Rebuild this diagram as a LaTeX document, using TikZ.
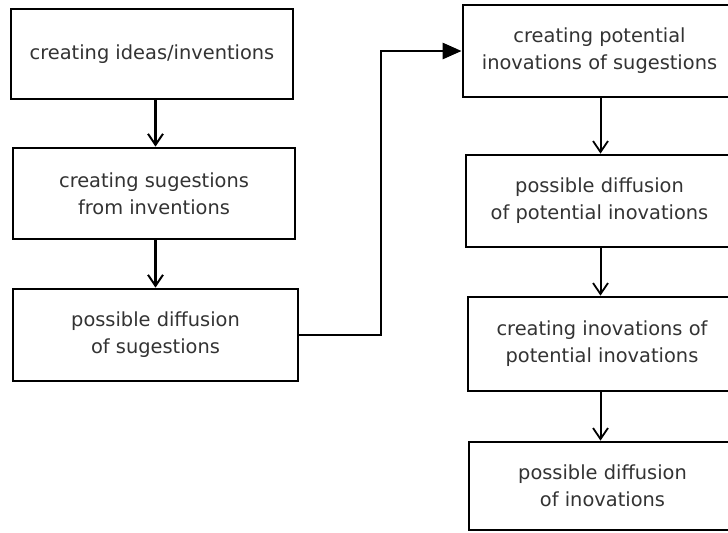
\documentclass[tikz,border=0pt]{standalone}
\usepackage{fontspec}
\setmainfont{DejaVu Sans}
\usetikzlibrary{arrows.meta}
\begin{document}
\begin{tikzpicture}[x=0.5pt,y=-0.5pt,
  stepbox/.style={draw=black, line width=1.4pt, fill=white, align=center,
    text=black!80, inner sep=0pt,
    font=\fontsize{9.7pt}{13.5pt}\selectfont},
  flow/.style={line width=1.2pt, -{Straight Barb[length=5.5pt,width=7.5pt,line width=1pt]}},
  thinflow/.style={line width=1pt, -{Straight Barb[length=5.5pt,width=7.5pt,line width=0.9pt]}},
  jump/.style={line width=1.4pt, -{Triangle[length=9.5pt,width=8pt]}}]
  \useasboundingbox (0,0) rectangle (728,532);
  \fill[white] (0,0) rectangle (728,532);

  % left column
  \node[stepbox, minimum width=141pt, minimum height=45pt] (b1) at (152,54)
    {creating ideas/inventions};
  \node[stepbox, minimum width=141pt, minimum height=45.5pt] (b2) at (154,193.5)
    {creating sugestions\\from inventions};
  \node[stepbox, minimum width=142.5pt, minimum height=46pt] (b3) at (155.5,335)
    {possible diffusion\\of sugestions};

  % right column
  \node[stepbox, minimum width=136.5pt, minimum height=46pt] (b4) at (599.5,51)
    {creating potential\\inovations of sugestions};
  \node[stepbox, minimum width=133.5pt, minimum height=46pt] (b5) at (599.5,201)
    {possible diffusion\\of potential inovations};
  \node[stepbox, minimum width=134pt, minimum height=47pt] (b6) at (602,344)
    {creating inovations of\\potential inovations};
  \node[stepbox, minimum width=133.5pt, minimum height=44pt] (b7) at (602.5,486)
    {possible diffusion\\of inovations};

  % connectors
  \draw[flow] (b1.south -| b3) -- (b2.north -| b3);
  \draw[flow] (b2.south -| b3) -- (b3.north);
  \coordinate (bend) at (381,0);
  \draw[jump] (b3.east) -- (b3.east -| bend) |- (b4.west);
  \draw[thinflow] (b4.south) ++(1,0) coordinate (c4) -- (c4 |- b5.north);
  \draw[thinflow] (c4 |- b5.south) -- (c4 |- b6.north);
  \draw[thinflow] (c4 |- b6.south) -- (c4 |- b7.north);
\end{tikzpicture}
\end{document}
